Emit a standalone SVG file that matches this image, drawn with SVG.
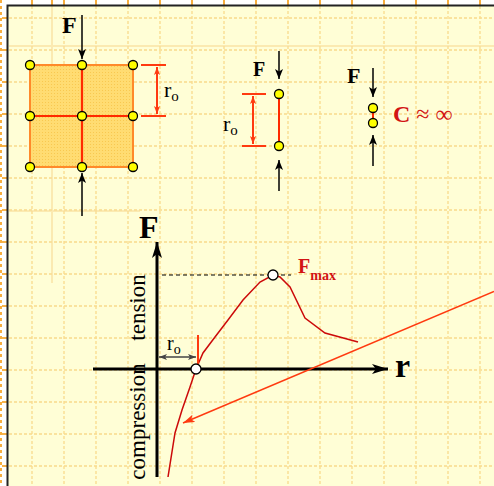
<svg xmlns="http://www.w3.org/2000/svg" width="494" height="486" viewBox="0 0 494 486">
<style>
.grid{stroke:#f6c45c;stroke-width:1.3;stroke-dasharray:3 2;fill:none;opacity:0.6}
.faint{stroke:#f9dc98;stroke-width:2;fill:none;opacity:0.6}
.tk{stroke:#f59a10;stroke-width:1.6;fill:none}
.blk{stroke:#000;stroke-width:1.5;fill:none}
.dot{fill:#ffff00;stroke:#000;stroke-width:1.3}
.odot{fill:#fff;stroke:#000;stroke-width:1.3}
.dim{stroke:#ff3a10;stroke-width:2;fill:none}
.t{font-family:"Liberation Serif",serif;fill:#000}
.b{font-weight:bold}
.red{fill:#d21414}
</style>
<defs>
<pattern id="tex" width="3" height="3" patternUnits="userSpaceOnUse"><rect width="3" height="3" fill="#ffdc72"/><rect width="1" height="1" fill="#f8c850"/></pattern>
<marker id="ah" viewBox="0 0 10 8" refX="10" refY="4" markerWidth="10" markerHeight="8" orient="auto" markerUnits="userSpaceOnUse"><path d="M0,0 L10,4 L0,8 L2.5,4 z" fill="#000"/></marker>
<marker id="ax" viewBox="0 0 16 10" refX="16" refY="5" markerWidth="16" markerHeight="10" orient="auto" markerUnits="userSpaceOnUse"><path d="M0,0 L16,5 L0,10 L4,5 z" fill="#000"/></marker>
<marker id="rd" viewBox="0 0 8 6" refX="8" refY="3" markerWidth="8" markerHeight="6" orient="auto-start-reverse" markerUnits="userSpaceOnUse"><path d="M0,0 L8,3 L0,6 L2,3 z" fill="#ff3a10"/></marker>
<marker id="gy" viewBox="0 0 8 6" refX="8" refY="3" markerWidth="8" markerHeight="6" orient="auto-start-reverse" markerUnits="userSpaceOnUse"><path d="M0,0 L8,3 L0,6 L2,3 z" fill="#444"/></marker>
<marker id="ra" viewBox="0 0 12 8" refX="12" refY="4" markerWidth="12" markerHeight="8" orient="auto" markerUnits="userSpaceOnUse"><path d="M0,0 L12,4 L0,8 L3,4 z" fill="#ff3a10"/></marker>
</defs>

<g id="background">
<rect x="0" y="0" width="494" height="486" fill="#ffffff"/>
<rect x="8" y="5.5" width="486" height="481" fill="#fffed6"/>
<g class="grid">
<path d="M32,6V486M64,6V486M96,6V486M128,6V486M160,6V486M192,6V486M224,6V486M256,6V486M288,6V486M320,6V486M352,6V486M384,6V486M416,6V486M448,6V486M480,6V486"/>
<path d="M9,18H494M9,50H494M9,82H494M9,114H494M9,146H494M9,178H494M9,210H494M9,242H494M9,274H494M9,306H494M9,338H494M9,370H494M9,402H494M9,434H494M9,466H494"/>
</g>
<path class="faint" d="M52,6V283M9,46H494M9,211H140"/>
<g class="tk">
<path d="M32,0V5M52,0V5M64,0V5M96,0V5M128,0V5M160,0V5M192,0V5M224,0V5M256,0V5M288,0V5M320,0V5M352,0V5M384,0V5M416,0V5M448,0V5M480,0V5"/>
<path d="M2,18H7M2,50H7M2,82H7M2,114H7M2,146H7M2,178H7M2,210H7M2,242H7M2,274H7M2,306H7M2,338H7M2,370H7M2,402H7M2,434H7M2,466H7"/>
<path d="M1,0V486" stroke-dasharray="3 3"/>
</g>
<path d="M7.5,486V5.5H494" fill="none" stroke="#222" stroke-width="2"/>
</g>

<g id="lattice">
<rect x="30" y="65" width="103" height="102" fill="url(#tex)" stroke="#ff8a2a" stroke-width="2"/>
<path d="M82,65V167M30,116H133" stroke="#ff2a00" stroke-width="2.2" fill="none"/>
<circle class="dot" cx="30" cy="65" r="4.5"/><circle class="dot" cx="82" cy="65" r="4.5"/><circle class="dot" cx="133" cy="65" r="4.5"/>
<circle class="dot" cx="30" cy="116" r="4.5"/><circle class="dot" cx="82" cy="116" r="4.5"/><circle class="dot" cx="133" cy="116" r="4.5"/>
<circle class="dot" cx="30" cy="167" r="4.5"/><circle class="dot" cx="82" cy="167" r="4.5"/><circle class="dot" cx="133" cy="167" r="4.5"/>
<line class="blk" x1="82" y1="15" x2="82" y2="59" marker-end="url(#ah)"/>
<line class="blk" x1="82" y1="216" x2="82" y2="173" marker-end="url(#ah)"/>
<text class="t b" x="62" y="33" font-size="24">F</text>
<path class="dim" d="M141,65H166M141,116H166"/>
<line class="dim" x1="157" y1="67" x2="157" y2="114" stroke-width="1.5" marker-start="url(#rd)" marker-end="url(#rd)"/>
<text class="t" x="164" y="97" font-size="22">r<tspan font-size="15" dy="4">o</tspan></text>
</g>

<g id="pair">
<line x1="279" y1="94" x2="279" y2="146" stroke="#ff2a00" stroke-width="2"/>
<circle class="dot" cx="279" cy="94" r="4.5"/><circle class="dot" cx="279" cy="146" r="4.5"/>
<line class="blk" x1="279" y1="51" x2="279" y2="79" marker-end="url(#ah)"/>
<line class="blk" x1="279" y1="191" x2="279" y2="160" marker-end="url(#ah)"/>
<text class="t b" x="253" y="76" font-size="20">F</text>
<path class="dim" d="M242,94H266M242,146H266"/>
<line class="dim" x1="253" y1="96" x2="253" y2="144" stroke-width="1.5" marker-start="url(#rd)" marker-end="url(#rd)"/>
<text class="t" x="223" y="131" font-size="22">r<tspan font-size="15" dy="4">o</tspan></text>
</g>

<g id="compressed">
<line x1="373" y1="108" x2="373" y2="123" stroke="#ff2a00" stroke-width="2"/>
<circle class="dot" cx="373" cy="108" r="4.5"/><circle class="dot" cx="373" cy="123" r="4.5"/>
<line class="blk" x1="373" y1="68" x2="373" y2="97" marker-end="url(#ah)"/>
<line class="blk" x1="373" y1="166" x2="373" y2="135" marker-end="url(#ah)"/>
<text class="t b" x="347" y="83" font-size="22">F</text>
<text class="t red" x="393" y="122" font-size="24"><tspan font-weight="bold">C</tspan> ≈ ∞</text>
</g>

<g id="graph">
<line x1="157" y1="477" x2="157" y2="242" stroke="#000" stroke-width="3" marker-end="url(#ax)"/>
<line x1="93" y1="369" x2="388" y2="369" stroke="#000" stroke-width="3" marker-end="url(#ax)"/>
<text class="t b" x="139" y="238" font-size="32">F</text>
<text class="t b" x="395" y="377" font-size="34">r</text>
<text class="t" font-size="23" transform="translate(145,307.5) rotate(-90)" text-anchor="middle">tension</text>
<text class="t" font-size="23" transform="translate(145,421.5) rotate(-90)" text-anchor="middle">compression</text>
<line x1="162" y1="275" x2="291" y2="275" stroke="#000" stroke-width="1.2" stroke-dasharray="4 3"/>
<polyline points="168,477 175,433 182,410 190,387 196,369 203,353 215,337 228,320 243,300 260,282 273,275 280,277 290,287 305,318 325,333 358,342" fill="none" stroke="#cc0a0a" stroke-width="1.5"/>
<line x1="198" y1="335" x2="198" y2="369" stroke="#ff3a10" stroke-width="2"/>
<line x1="159" y1="357" x2="196" y2="357" stroke="#444" stroke-width="1.3" marker-start="url(#gy)" marker-end="url(#gy)"/>
<text class="t" x="167" y="350" font-size="20">r<tspan font-size="14" dy="4">o</tspan></text>
<circle class="odot" cx="196" cy="369" r="5"/>
<circle class="odot" cx="273" cy="275" r="5"/>
<text class="t b red" x="298" y="273" font-size="20">F<tspan font-size="14" dy="7">max</tspan></text>
</g>

<g id="connectors">
<line x1="494" y1="291.5" x2="183" y2="423" stroke="#ff3a10" stroke-width="1.5" marker-end="url(#ra)"/>
</g>
</svg>
